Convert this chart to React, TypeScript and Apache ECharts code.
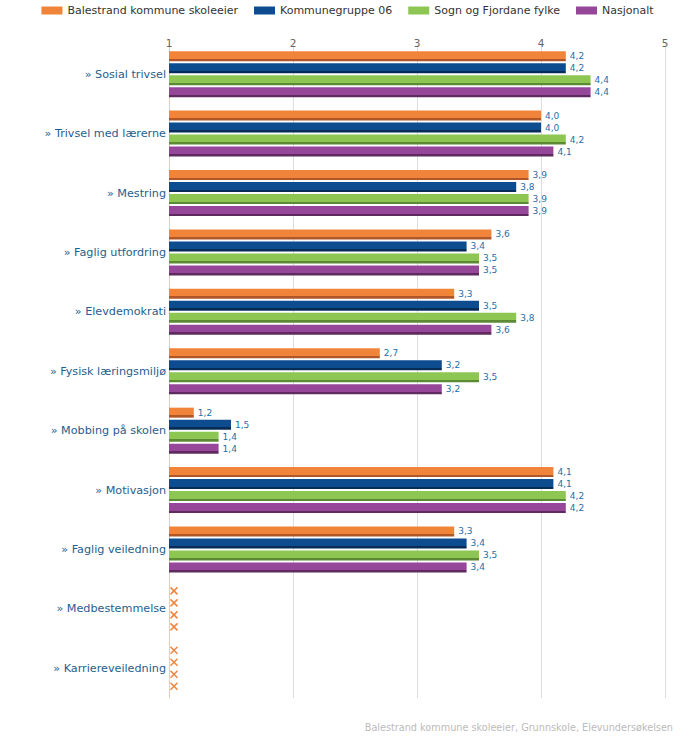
import React, { useEffect, useRef } from "react";
import * as echarts from "echarts";

const categories = [
  "Sosial trivsel",
  "Trivsel med lærerne",
  "Mestring",
  "Faglig utfordring",
  "Elevdemokrati",
  "Fysisk læringsmiljø",
  "Mobbing på skolen",
  "Motivasjon",
  "Faglig veiledning",
  "Medbestemmelse",
  "Karriereveiledning",
];

const seriesNames = [
  "Balestrand kommune skoleeier",
  "Kommunegruppe 06",
  "Sogn og Fjordane fylke",
  "Nasjonalt",
];

const balestrand = [4.2, 4.0, 3.9, 3.6, 3.3, 2.7, 1.2, 4.1, 3.3, null, null];
const kommunegruppe = [4.2, 4.0, 3.8, 3.4, 3.5, 3.2, 1.5, 4.1, 3.4, null, null];
const sognFjordane = [4.4, 4.2, 3.9, 3.5, 3.8, 3.5, 1.4, 4.2, 3.5, null, null];
const nasjonalt = [4.4, 4.1, 3.9, 3.5, 3.6, 3.2, 1.4, 4.2, 3.4, null, null];

const xTicks = [1, 2, 3, 4, 5];

const colors = ["#F0843A", "#0D4C8E", "#8DC652", "#97479A"];
const darkColors = ["#B0572A", "#072C56", "#5C8A34", "#5E2A60"];

const FONT = "DejaVu Sans, Verdana, sans-serif";

export default function App() {
  const ref = useRef<HTMLDivElement>(null);
  useEffect(() => {
    if (!ref.current) return;
    const chart = echarts.init(ref.current, null, { renderer: "svg" });
    const allData = [balestrand, kommunegruppe, sognFjordane, nasjonalt];
    const missing: number[] = [];
    categories.forEach((_, i) => {
      if (allData.every((d) => d[i] === null)) missing.push(i);
    });
    const barSeries = allData.map((d, si) => ({
      name: seriesNames[si],
      type: "bar",
      data: d,
      barWidth: 10,
      barGap: "20%",
      itemStyle: {
        color: new echarts.graphic.LinearGradient(0, 0, 0, 1, [
          { offset: 0, color: colors[si] },
          { offset: 0.75, color: colors[si] },
          { offset: 0.76, color: darkColors[si] },
          { offset: 1, color: darkColors[si] },
        ]),
      },
      label: {
        show: true,
        position: "right",
        distance: 4,
        color: "#1F6FA8",
        fontSize: 9,
        fontFamily: FONT,
        formatter: (p: any) =>
          p.value == null ? "" : Number(p.value).toFixed(1).replace(".", ","),
      },
    }));
    const offsets = [-18, -6, 6, 18];
    const missingSeries = {
      type: "custom",
      name: "missing",
      silent: true,
      data: missing.map((i) => [1, i]),
      encode: { x: 0, y: 1 },
      renderItem: (params: any, api: any) => {
        const pt = api.coord([api.value(0), api.value(1)]);
        const children: any[] = [];
        offsets.forEach((o) => {
          const cx = pt[0] + 5;
          const cy = pt[1] + o;
          const s = 3.5;
          children.push({
            type: "line",
            shape: { x1: cx - s, y1: cy - s, x2: cx + s, y2: cy + s },
            style: { stroke: "#F0843A", lineWidth: 1.5 },
          });
          children.push({
            type: "line",
            shape: { x1: cx - s, y1: cy + s, x2: cx + s, y2: cy - s },
            style: { stroke: "#F0843A", lineWidth: 1.5 },
          });
        });
        return { type: "group", children };
      },
    };
    chart.setOption({
      animation: false,
      textStyle: { fontFamily: FONT },
      color: colors,
      legend: {
        top: 5,
        left: "center",
        padding: 0,
        itemWidth: 21,
        itemHeight: 8,
        itemGap: 16,
        icon: "rect",
        textStyle: { color: "#333", fontSize: 11, fontFamily: FONT },
        data: seriesNames.map((n, i) => ({ name: n, itemStyle: { color: colors[i] } })),
      },
      grid: { left: 169, right: 30, top: 44.5, bottom: 39, containLabel: false },
      xAxis: {
        type: "value",
        position: "top",
        min: 1,
        max: 5,
        interval: 1,
        axisLine: { show: false },
        axisTick: { show: false },
        axisLabel: { color: "#666", fontSize: 10.5, margin: -4, customValues: xTicks },
        splitLine: { show: true, lineStyle: { color: "#DDDDDD", width: 1 } },
      },
      yAxis: {
        type: "category",
        inverse: true,
        data: categories,
        axisLine: { show: true, lineStyle: { color: "#E3CDBB", width: 1 } },
        axisTick: { show: false },
        axisLabel: {
          color: "#1F5E8E",
          fontSize: 11.2,
          margin: 3,
          formatter: (v: string) => "» " + v,
        },
      },
      graphic: [
        {
          type: "text",
          right: 22,
          bottom: 5,
          style: {
            text: "Balestrand kommune skoleeier, Grunnskole, Elevundersøkelsen",
            fill: "#BBBBBB",
            fontSize: 9.7,
            fontFamily: FONT,
          },
        },
      ],
      series: [...barSeries, missingSeries],
    });
    return () => chart.dispose();
  }, []);
  return (
    <div
      ref={ref}
      style={{ position: "fixed", left: 0, top: 0, width: 695, height: 737, background: "#fff" }}
    />
  );
}
